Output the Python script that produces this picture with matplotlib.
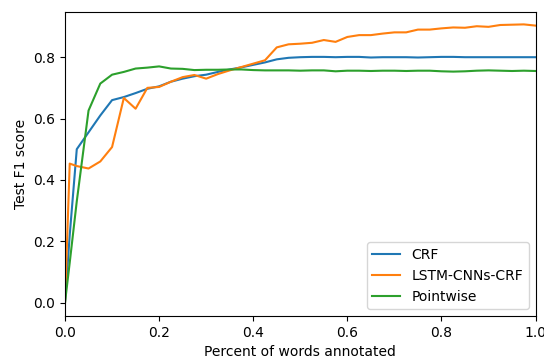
import matplotlib
matplotlib.use('Agg')
import matplotlib.pyplot as plt

# fraction of words annotated
pct = [0, 0.01, 0.025, 0.05, 0.075, 0.1, 0.125, 0.15, 0.175, 0.2,
       0.225, 0.25, 0.275, 0.3, 0.325, 0.35, 0.375, 0.4, 0.425, 0.45,
       0.475, 0.5, 0.525, 0.55, 0.575, 0.6, 0.625, 0.65, 0.675, 0.7,
       0.725, 0.75, 0.775, 0.8, 0.825, 0.85, 0.875, 0.9, 0.925, 0.95,
       0.975, 1.0]

crf = [0, 0.22, 0.50, 0.555, 0.61, 0.66, 0.670, 0.683, 0.697, 0.705,
       0.720, 0.730, 0.738, 0.743, 0.752, 0.760, 0.767, 0.775, 0.783, 0.793,
       0.798, 0.800, 0.801, 0.801, 0.800, 0.801, 0.801, 0.799, 0.800, 0.800,
       0.800, 0.799, 0.800, 0.801, 0.801, 0.800, 0.800, 0.800, 0.800, 0.800,
       0.800, 0.800]

lstm = [0, 0.453, 0.445, 0.437, 0.46, 0.507, 0.667, 0.632, 0.70, 0.703,
        0.720, 0.735, 0.742, 0.730, 0.745, 0.757, 0.768, 0.779, 0.790, 0.832,
        0.842, 0.844, 0.847, 0.856, 0.850, 0.866, 0.872, 0.872, 0.877, 0.881,
        0.881, 0.890, 0.890, 0.894, 0.897, 0.896, 0.901, 0.899, 0.905, 0.906,
        0.907, 0.903]

pointwise = [0, 0.13, 0.33, 0.626, 0.714, 0.743, 0.752, 0.763, 0.766, 0.770,
             0.763, 0.762, 0.758, 0.759, 0.759, 0.760, 0.760, 0.758, 0.757, 0.757,
             0.757, 0.756, 0.757, 0.757, 0.754, 0.756, 0.756, 0.755, 0.756, 0.756,
             0.755, 0.756, 0.756, 0.754, 0.753, 0.754, 0.756, 0.757, 0.756, 0.755,
             0.756, 0.755]

fig = plt.figure(figsize=(5.44, 3.58), dpi=100)
ax = fig.add_axes([0.1195, 0.1173, 0.865, 0.8497])
ax.plot(pct, crf, label='CRF')
ax.plot(pct, lstm, label='LSTM-CNNs-CRF')
ax.plot(pct, pointwise, label='Pointwise')
ax.set_xlim(0, 1)
ax.set_ylim(-0.044, 0.948)
ax.set_xlabel('Percent of words annotated')
ax.set_ylabel('Test F1 score')
ax.legend(loc='lower right')
fig.savefig('out.png', dpi=100)
